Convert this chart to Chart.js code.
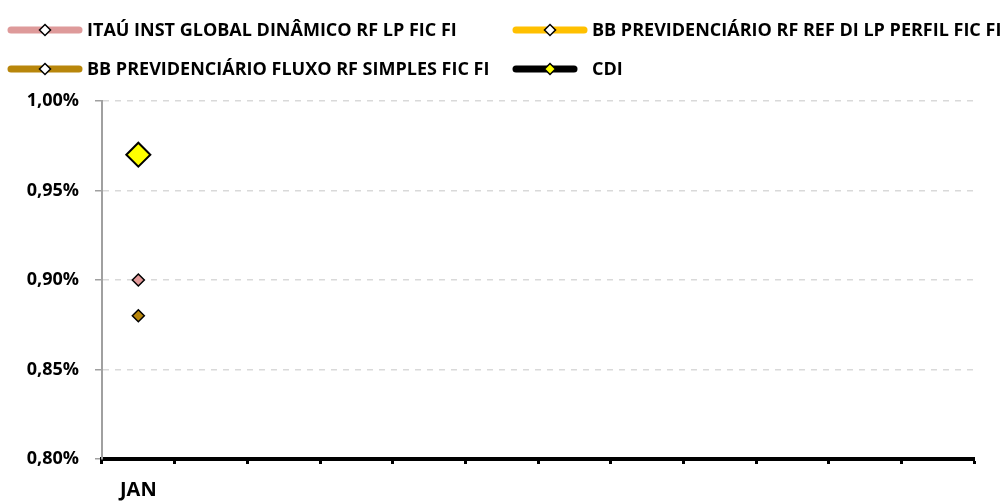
<!DOCTYPE html>
<html>
<head>
<meta charset="utf-8">
<script src="https://cdn.jsdelivr.net/npm/chart.js@4/dist/chart.umd.min.js"></script>
<style>
  html, body { margin: 0; padding: 0; background: #fff; }
  #wrap { width: 1002px; height: 501px; }
</style>
</head>
<body>
<div id="wrap"><canvas id="grafico" width="1002" height="501"></canvas></div>
<script>
// categorias (só JAN aparece no eixo)
const meses = ['JAN', 'FEV', 'MAR', 'ABR', 'MAI', 'JUN', 'JUL', 'AGO', 'SET', 'OUT', 'NOV', 'DEZ'];
const rotulosX = ['JAN', '', '', '', '', '', '', '', '', '', '', ''];

// rentabilidade mensal (%)
const itau = [0.90, null, null, null, null, null, null, null, null, null, null, null];
const bbPerfil = [0.97, null, null, null, null, null, null, null, null, null, null, null];
const bbFluxo = [0.88, null, null, null, null, null, null, null, null, null, null, null];
const cdi = [0.97, null, null, null, null, null, null, null, null, null, null, null];

const nomes = [
    'ITAÚ INST GLOBAL DINÂMICO RF LP FIC FI',
    'BB PREVIDENCIÁRIO RF REF DI LP PERFIL FIC FI',
    'BB PREVIDENCIÁRIO FLUXO RF SIMPLES FIC FI',
    'CDI'
];
const ticksY = [0.80, 0.85, 0.90, 0.95, 1.00];

const FONTE = '"Open Sans", sans-serif';

// legenda em duas colunas desenhada à mão
const legendaColunas = {
    id: 'legendaColunas',
    afterDraw(chart) {
        const ctx = chart.ctx;
        const itens = [
            { ds: 0, x: 8, y: 30, w: 74 },
            { ds: 1, x: 513, y: 30, w: 74 },
            { ds: 2, x: 8, y: 69, w: 74 },
            { ds: 3, x: 513, y: 69, w: 64 }
        ];
        ctx.save();
        itens.forEach(function(it) {
            const d = chart.data.datasets[it.ds];
            ctx.lineCap = 'round';
            ctx.lineWidth = 7;
            ctx.strokeStyle = d.borderColor;
            ctx.beginPath();
            ctx.moveTo(it.x + 3, it.y);
            ctx.lineTo(it.x + it.w - 3, it.y);
            ctx.stroke();
            // losango
            const cx = it.x + 37, r = 5.5;
            ctx.beginPath();
            ctx.moveTo(cx, it.y - r);
            ctx.lineTo(cx + r, it.y);
            ctx.lineTo(cx, it.y + r);
            ctx.lineTo(cx - r, it.y);
            ctx.closePath();
            ctx.fillStyle = it.ds === 3 ? '#FFFF00' : '#FFFFFF';
            ctx.fill();
            ctx.lineWidth = 1.5;
            ctx.strokeStyle = '#000';
            ctx.stroke();
            ctx.fillStyle = '#000';
            ctx.font = 'bold 18px ' + FONTE;
            ctx.textBaseline = 'middle';
            ctx.fillText(nomes[it.ds], it.x + 79, it.y + 1);
        });
        ctx.restore();
    }
};

new Chart(document.getElementById('grafico'), {
    type: 'line',
    data: {
        labels: meses,
        datasets: [{
            label: nomes[0],
            data: itau,
            borderColor: '#DE9A9A',
            backgroundColor: '#E39A9A',
            pointBorderColor: '#000',
            pointBorderWidth: 1.5,
            pointRadius: 6,
            pointStyle: 'rectRot',
            borderWidth: 4,
            order: 1
        }, {
            label: nomes[1],
            data: bbPerfil,
            borderColor: '#FFC000',
            backgroundColor: '#FFC000',
            pointBorderColor: '#000',
            pointBorderWidth: 1.5,
            pointRadius: 6,
            pointStyle: 'rectRot',
            borderWidth: 4,
            order: 2
        }, {
            label: nomes[2],
            data: bbFluxo,
            borderColor: '#B8860B',
            backgroundColor: '#B8860B',
            pointBorderColor: '#000',
            pointBorderWidth: 1.5,
            pointRadius: 6,
            pointStyle: 'rectRot',
            borderWidth: 4,
            order: 1
        }, {
            label: nomes[3],
            data: cdi,
            borderColor: '#000000',
            backgroundColor: '#FFFF00',
            pointBorderColor: '#000',
            pointBorderWidth: 2,
            pointRadius: 12,
            pointStyle: 'rectRot',
            borderWidth: 4,
            order: 0
        }]
    },
    options: {
        responsive: false,
        animation: false,
        layout: { padding: { top: 101, right: 28, left: 0, bottom: 0 } },
        plugins: { legend: { display: false }, tooltip: { enabled: false } },
        scales: {
            x: {
                offset: true,
                afterFit: function(s) { s.height = 42; },
                grid: {
                    display: true,
                    drawOnChartArea: false,
                    offset: true,
                    tickLength: 5,
                    tickWidth: 3,
                    tickColor: '#000'
                },
                border: { display: true, color: '#000', width: 4 },
                ticks: {
                    padding: 14,
                    maxRotation: 0,
                    autoSkip: false,
                    color: '#000',
                    font: { family: FONTE, size: 20, weight: 'bold' },
                    callback: function(v, i) { return rotulosX[i]; }
                }
            },
            y: {
                min: ticksY[0],
                max: ticksY[ticksY.length - 1],
                afterFit: function(s) { s.width = 102; },
                afterBuildTicks: function(s) { s.ticks = ticksY.map(function(v) { return { value: v }; }); },
                grid: {
                    color: '#D9D9D9',
                    lineWidth: 1.5,
                    tickColor: '#A0A0A0',
                    tickLength: 7,
                    tickWidth: 1.5
                },
                border: { display: true, color: '#A0A0A0', width: 2, dash: [6, 6] },
                ticks: {
                    padding: 16,
                    color: '#000',
                    font: { family: FONTE, size: 18, weight: 'bold' },
                    callback: function(v) { return v.toFixed(2).replace('.', ',') + '%'; }
                }
            }
        }
    },
    plugins: [legendaColunas]
});
</script>
</body>
</html>
